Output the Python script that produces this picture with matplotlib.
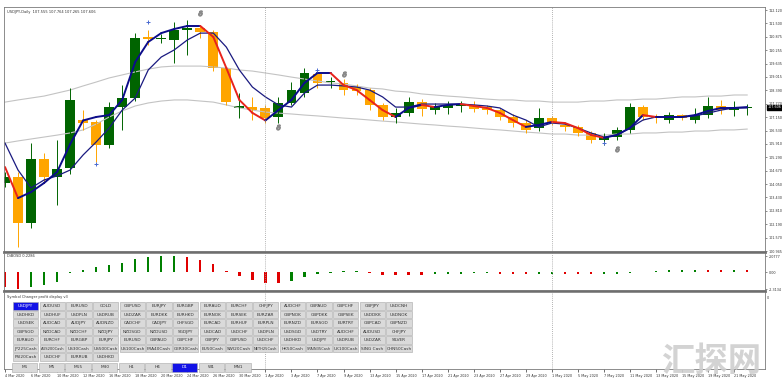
import matplotlib
matplotlib.use("Agg")
import matplotlib.pyplot as plt
from matplotlib.patches import Rectangle
import numpy as np

# ---------------- data ----------------
dates = ["4 Mar 2020", "5 Mar 2020", "6 Mar 2020", "9 Mar 2020", "10 Mar 2020", "11 Mar 2020", "12 Mar 2020",
         "13 Mar 2020", "16 Mar 2020", "17 Mar 2020", "18 Mar 2020", "19 Mar 2020", "20 Mar 2020", "23 Mar 2020",
         "24 Mar 2020", "25 Mar 2020", "26 Mar 2020", "27 Mar 2020", "30 Mar 2020", "31 Mar 2020", "1 Apr 2020",
         "2 Apr 2020", "3 Apr 2020", "6 Apr 2020", "7 Apr 2020", "8 Apr 2020", "9 Apr 2020", "10 Apr 2020",
         "13 Apr 2020", "14 Apr 2020", "15 Apr 2020", "16 Apr 2020", "17 Apr 2020", "20 Apr 2020", "21 Apr 2020",
         "22 Apr 2020", "23 Apr 2020", "24 Apr 2020", "27 Apr 2020", "28 Apr 2020", "29 Apr 2020", "30 Apr 2020",
         "1 May 2020", "4 May 2020", "5 May 2020", "6 May 2020", "7 May 2020", "8 May 2020", "11 May 2020",
         "12 May 2020", "13 May 2020", "14 May 2020", "15 May 2020", "18 May 2020", "19 May 2020", "20 May 2020",
         "21 May 2020", "22 May 2020"]

opens = [104.10, 104.38, 102.25, 105.21, 104.38, 104.80, 107.00, 106.93, 105.86, 107.62,
         108.04, 110.85, 110.76, 110.73, 111.19, 111.29, 111.10, 109.43, 107.58, 107.62,
         107.57, 107.16, 107.81, 108.27, 109.15, 108.77, 108.74, 108.55, 108.41, 107.71,
         107.16, 107.34, 107.85, 107.48, 107.58, 107.66, 107.72, 107.62, 107.48, 107.16,
         106.88, 106.65, 107.11, 106.79, 106.70, 106.42, 106.09, 106.23, 106.56, 107.62,
         107.13, 107.02, 107.25, 107.02, 107.25, 107.67, 107.48, 107.555]
highs = [104.60, 104.60, 105.95, 105.50, 106.09, 108.50, 107.48, 107.00, 107.85, 108.64,
         111.05, 111.20, 111.00, 111.56, 111.66, 111.42, 111.20, 109.50, 108.27, 108.10,
         107.70, 108.10, 108.80, 109.43, 109.30, 109.01, 108.90, 108.70, 108.50, 107.80,
         107.60, 108.10, 108.00, 107.80, 107.90, 107.90, 107.90, 107.70, 107.60, 107.30,
         107.00, 107.57, 107.20, 106.90, 106.80, 106.50, 106.40, 106.70, 107.81, 107.70,
         107.30, 107.40, 107.30, 107.57, 108.09, 107.95, 107.90, 107.764]
lows = [103.90, 101.13, 102.01, 104.10, 103.08, 104.50, 106.56, 105.07, 105.70, 106.56,
        107.90, 110.50, 110.60, 109.66, 110.03, 110.80, 109.30, 107.70, 107.11, 107.00,
        106.90, 106.90, 107.70, 108.10, 108.50, 108.50, 108.20, 108.20, 107.50, 107.00,
        106.90, 107.20, 107.20, 107.30, 107.30, 107.40, 107.40, 107.30, 107.00, 106.70,
        106.40, 106.50, 106.80, 106.50, 106.30, 105.95, 105.86, 106.10, 106.40, 107.00,
        106.90, 106.90, 107.00, 106.90, 107.10, 107.30, 107.20, 107.265]
closes = [104.38, 102.25, 105.21, 104.38, 104.75, 107.95, 106.88, 105.86, 107.62, 108.04,
          110.82, 110.78, 110.80, 111.19, 111.29, 111.10, 109.43, 107.85, 107.66, 107.48,
          107.11, 107.81, 108.41, 109.20, 108.74, 108.80, 108.41, 108.37, 107.71, 107.16,
          107.34, 107.85, 107.53, 107.62, 107.72, 107.69, 107.53, 107.48, 107.16, 106.88,
          106.56, 107.11, 106.93, 106.70, 106.42, 106.09, 106.23, 106.56, 107.62, 107.16,
          107.10, 107.25, 107.11, 107.25, 107.67, 107.48, 107.62, 107.606]

fast_ma = [104.84, 103.40, 103.68, 104.10, 104.61, 105.90, 107.00, 107.16, 107.25, 107.95,
           109.71, 110.64, 111.05, 111.24, 111.38, 111.38, 110.87, 109.43, 107.95, 107.35,
           107.00, 107.48, 107.95, 108.74, 109.20, 109.20, 108.64, 108.41, 107.95, 107.48,
           107.16, 107.58, 107.72, 107.62, 107.72, 107.76, 107.67, 107.58, 107.35, 107.02,
           106.70, 106.79, 106.93, 106.88, 106.65, 106.33, 106.19, 106.33, 106.65, 107.25,
           107.16, 107.16, 107.16, 107.25, 107.44, 107.58, 107.58, 107.62]
slow_ma = [105.95, 104.70, 103.87, 104.24, 104.43, 104.70, 105.40, 106.00, 106.65, 107.48,
           108.04, 109.34, 109.94, 110.27, 110.73, 111.05, 111.05, 110.40, 109.34, 108.55,
           108.09, 107.72, 107.62, 108.27, 108.64, 108.64, 108.60, 108.55, 108.41, 108.09,
           107.62, 107.62, 107.76, 107.76, 107.76, 107.76, 107.72, 107.67, 107.58, 107.25,
           107.02, 106.70, 106.88, 106.83, 106.65, 106.42, 106.23, 106.32, 106.65, 107.02,
           107.16, 107.16, 107.16, 107.21, 107.34, 107.48, 107.58, 107.58]
band_upper = [107.85, 107.95, 108.04, 108.13, 108.27, 108.41, 108.60, 108.78, 108.97, 109.11,
              109.25, 109.38, 109.48, 109.52, 109.52, 109.52, 109.48, 109.43, 109.34, 109.29,
              109.20, 109.11, 109.01, 108.92, 108.83, 108.74, 108.69, 108.60, 108.50, 108.46,
              108.36, 108.32, 108.23, 108.18, 108.13, 108.09, 108.04, 107.99, 107.95, 107.95,
              107.90, 107.90, 107.85, 107.85, 107.85, 107.90, 107.90, 107.95, 107.95, 107.99,
              107.99, 108.04, 108.09, 108.09, 108.13, 108.13, 108.18, 108.18]
band_lower = [105.95, 106.05, 106.14, 106.23, 106.32, 106.42, 106.56, 106.83, 107.16, 107.44,
              107.67, 107.81, 107.90, 107.95, 107.95, 107.90, 107.85, 107.72, 107.58, 107.48,
              107.39, 107.34, 107.30, 107.25, 107.21, 107.16, 107.11, 107.07, 107.02, 106.97,
              106.93, 106.88, 106.83, 106.79, 106.74, 106.70, 106.65, 106.60, 106.56, 106.51,
              106.46, 106.42, 106.37, 106.37, 106.32, 106.32, 106.32, 106.37, 106.37, 106.42,
              106.42, 106.46, 106.46, 106.51, 106.51, 106.56, 106.56, 106.60]

osc_values = [-2.00, -2.26, -2.00, -1.73, -1.33, -0.13, 0.33, 0.60, 0.93, 1.20,
              1.73, 2.00, 2.13, 2.13, 2.06, 1.66, 1.00, 0.07, -0.47, -1.00,
              -1.46, -1.46, -1.16, -0.70, -0.27, -0.07, 0.13, 0.13, -0.07, -0.36,
              -0.36, -0.36, -0.40, -0.33, -0.27, -0.20, -0.13, -0.13, -0.20, -0.20,
              -0.27, -0.27, -0.27, -0.27, -0.27, -0.33, -0.33, -0.27, -0.07, -0.04,
              0.13, 0.30, 0.30, 0.30, 0.30, 0.30, 0.30, 0.30]
osc_colors = ["r", "r", "g", "g", "g", "g", "g", "g", "g", "g",
              "g", "g", "g", "g", "r", "r", "r", "r", "r", "r",
              "r", "r", "g", "g", "g", "g", "g", "g", "r", "r",
              "r", "r", "r", "g", "g", "g", "g", "g", "r", "r",
              "r", "g", "g", "r", "r", "r", "g", "g", "g", "g",
              "g", "g", "g", "g", "r", "r", "g", "r"]

price_ticks = [112.120, 111.500, 110.875, 110.255, 109.635, 109.015, 108.390, 107.770, 107.150,
               106.530, 105.910, 105.290, 104.670, 104.050, 103.430, 102.810, 102.190, 101.570, 100.945]
osc_ticks = [2.0777, 0.0, -2.3134]
osc_tick_labels = ["2.0777", "0.00", "-2.3134"]

fractal_idx = [15, 21, 26, 47]
fractal_val = [111.98, 106.70, 109.15, 105.68]
arrow_idx = [7, 11, 24, 46]
arrow_val = [104.98, 111.56, 109.34, 105.95]

symbols = [
    ["USDJPY", "AUDUSD", "EURUSD", "GOLD", "GBPUSD", "EURJPY", "EURGBP", "EURAUD", "EURCHF", "CHFJPY",
     "AUDCHF", "GBPAUD", "GBPCHF", "GBPJPY", "USDCNH"],
    ["USDHKD", "USDHUF", "USDPLN", "USDRUB", "USDZAR", "EURDKK", "EURHKD", "EURNOK", "EURSEK", "EURZAR",
     "GBPNOK", "GBPDKK", "GBPSEK", "USDDKK", "USDNOK"],
    ["USDSEK", "AUDCAD", "AUDJPY", "AUDNZD", "CADCHF", "CADJPY", "CHFSGD", "EURCAD", "EURHUF", "EURPLN",
     "EURNZD", "EURSGD", "EURTRY", "GBPCAD", "GBPNZD"],
    ["GBPSGD", "NZDCAD", "NZDCHF", "NZDJPY", "NZDSGD", "NZDUSD", "SGDJPY", "USDCAD", "USDCHF", "USDPLN",
     "USDSGD", "USDTRY", "AUDCHF", "AUDUSD", "CHFJPY"],
    ["EURAUD", "EURCHF", "EURGBP", "EURJPY", "EURUSD", "GBPAUD", "GBPCHF", "GBPJPY", "GBPUSD", "USDCHF",
     "USDHKD", "USDJPY", "USDRUB", "USDZAR", "SILVER"],
    ["JP225Cash", "AUS200Cash", "US30Cash", "US500Cash", "US100Cash", "FRA40Cash", "GER30Cash", "EU50Cash",
     "SWI20Cash", "NETH25Cash", "HK50Cash", "SPAIN35Cash", "UK100Cash", "SING Cash", "CHN50Cash"],
    ["PSI20Cash", "USDCHF", "EURRUB", "USDHKD"],
]
timeframes = ["M1", "M5", "M15", "M30", "H1", "H4", "D1", "W1", "MN1"]

# ---------------- figure ----------------
W, H = 782, 387
plt.rcParams["font.family"] = ["DejaVu Sans"]
fig = plt.figure(figsize=(W / 100, H / 100), dpi=100)
fig.patch.set_facecolor("white")
FS_AX = 2.45      # axis labels
FS_TX = 2.6       # small captions
FS_BT = 3.1       # button captions
TXT = "#333333"


def add_ax(x0, y0, x1, y1):
    return fig.add_axes([x0 / W, 1 - y1 / H, (x1 - x0) / W, (y1 - y0) / H])


n = len(closes)
idx = np.arange(n)
XL = (-0.077, 58.37)

ax = add_ax(4, 7, 765, 252)
ax_i = add_ax(4, 253, 765, 291)
ax_s = add_ax(4, 292, 765, 369)

for a in (ax, ax_i, ax_s):
    a.set_xlim(*XL)
    a.set_facecolor("white")
    for s in a.spines.values():
        s.set_color("#7a7a7a")
        s.set_linewidth(0.6)
    a.tick_params(axis="x", bottom=False, labelbottom=False)
    a.yaxis.tick_right()
    a.tick_params(axis="y", length=1.5, width=0.4, pad=1, labelsize=FS_AX, colors=TXT)

# ---- main chart ----
ax.set_ylim(100.90, 112.26)
ax.plot(idx, band_upper, color="#c3c3c3", lw=0.8)
ax.plot(idx, band_lower, color="#c3c3c3", lw=0.8)

GREEN, ORANGE = "#006400", "#ffa500"
cols = [GREEN if c >= o else ORANGE for o, c in zip(opens, closes)]
ax.vlines(idx, lows, highs, colors=cols, lw=0.7)
bottoms = [min(o, c) for o, c in zip(opens, closes)]
heights = [max(abs(c - o), 0.05) for o, c in zip(opens, closes)]
ax.bar(idx, heights, bottom=bottoms, width=0.76, color=cols, edgecolor="none")

ax.plot(idx, slow_ma, color="#1a1a80", lw=0.9)
for i in range(n - 1):
    c = "#e8231c" if fast_ma[i + 1] < fast_ma[i] else "#0c0c8a"
    ax.plot(idx[i:i + 2], fast_ma[i:i + 2], color=c, lw=1.4, solid_capstyle="round")

ax.plot(fractal_idx, fractal_val, linestyle="none", marker="$\u03b4$", ms=3.5, color="#8a8a8a")
ax.plot(arrow_idx, arrow_val, linestyle="none", marker="+", ms=3, mew=0.7, color="#4a6ad0")

for xi in (20, 42):
    for a in (ax, ax_i, ax_s):
        a.axvline(xi, color="#9a9a9a", lw=0.6, ls=(0, (1, 1.5)))

ax.set_yticks(price_ticks)
ax.set_yticklabels([f"{v:.3f}" for v in price_ticks])
ax.text(0.004, 0.988, "USDJPY,Daily  107.555 107.764 107.265 107.606", transform=ax.transAxes,
        fontsize=FS_TX, va="top", ha="left", color=TXT)
ax.text(1.0035, closes[-1], f"{closes[-1]:.3f}", transform=ax.get_yaxis_transform(), fontsize=FS_AX,
        va="center", ha="left", color="white",
        bbox=dict(boxstyle="square,pad=0.15", fc="black", ec="black"))

# ---- oscillator ----
ax_i.set_ylim(-2.53, 2.53)
ax_i.bar(idx, osc_values, width=0.18, color=["#e00000" if c == "r" else "#008000" for c in osc_colors])
ax_i.set_yticks(osc_ticks)
ax_i.set_yticklabels(osc_tick_labels)
ax_i.text(0.004, 0.97, "DiBOSD 0.2286", transform=ax_i.transAxes, fontsize=FS_TX, va="top", ha="left",
          color=TXT)

# ---- symbol changer panel ----
ax_s.set_ylim(0, 1)
ax_s.set_yticks([0.93])
ax_s.set_yticklabels(["0"])
ax_s.tick_params(axis="y", length=0)
ax_s.set_xticks(idx[::2])
ax_s.set_xticklabels([dates[i] for i in idx[::2]], fontsize=FS_AX, color=TXT)
ax_s.tick_params(axis="x", bottom=True, labelbottom=True, length=2, width=0.4, pad=1.5)
for t in ax_s.get_xticklabels():
    t.set_ha("left")

for a in (ax, ax_i):
    a.spines["bottom"].set_linewidth(2.0)
    a.spines["bottom"].set_color("#6e6e6e")

# overlay for UI buttons
ov = fig.add_axes([0, 0, 1, 1])
ov.set_xlim(0, W)
ov.set_ylim(H, 0)
ov.axis("off")
ov.text(7, 297, "Symbol Changer profit display v3", fontsize=FS_TX, va="center", ha="left", color=TXT)

bx0, bstep, bw = 13, 26.67, 25.3
by0, bystep, bh = 302.3, 8.5, 7.5
for r, row in enumerate(symbols):
    for c, name in enumerate(row):
        x = bx0 + c * bstep
        y = by0 + r * bystep
        sel = (r == 0 and c == 0)
        ov.add_patch(Rectangle((x, y), bw, bh, facecolor="#1212e6" if sel else "#dadada",
                               edgecolor="#a8a8a8", lw=0.4))
        ov.text(x + bw / 2, y + bh / 2, name, fontsize=FS_BT if len(name) < 10 else FS_BT * 0.85,
                ha="center", va="center", color="white" if sel else TXT)

ty = 362.5
for c, name in enumerate(timeframes):
    x = 12 + c * bstep
    sel = name == "D1"
    ov.add_patch(Rectangle((x, ty), bw, 9, facecolor="#1212e6" if sel else "#dadada",
                           edgecolor="#a8a8a8", lw=0.4))
    ov.text(x + bw / 2, ty + 4.5, name, fontsize=FS_BT, ha="center", va="center",
            color="white" if sel else TXT)

ov.text(711, 362, "汇探网", fontsize=24, fontweight="bold", ha="center", va="center",
        color="#cfcfcf", alpha=0.9, family=["Noto Sans CJK SC", "DejaVu Sans"])

fig.savefig("out.png", dpi=100, facecolor="white")
